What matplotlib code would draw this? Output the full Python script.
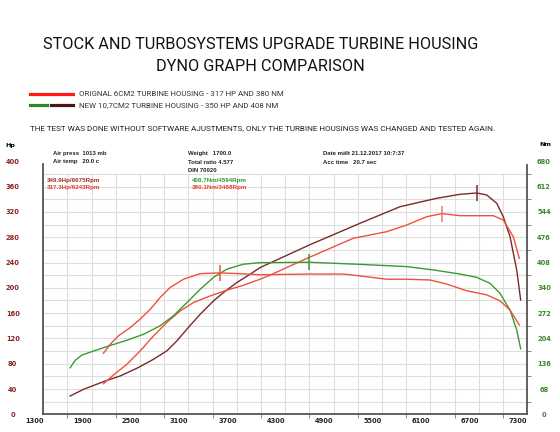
import numpy as np
import matplotlib
matplotlib.use('Agg')
import matplotlib.pyplot as plt

# Dyno data
# Original 6cm2 housing - power (Hp)
orig_hp_rpm = [2046, 2170, 2335, 2501, 2666, 2831, 2997, 3162, 3369, 3575, 3782, 3988,
               4110, 4598, 5143, 5557, 5805, 6053, 6243, 6466, 6673, 6879, 7002, 7126, 7201]
orig_hp = [48.4, 62.2, 79.0, 100.2, 123.9, 145.0, 163.5, 176.7, 187.2, 196.2, 204.1, 213.6,
           220.0, 248.2, 278.3, 288.7, 299.3, 312.4, 317.3, 314.0, 314.0, 314.0, 307.2, 280.8, 246.6]

# Original 6cm2 housing - torque (Nm)
orig_nm_rpm = [2046, 2129, 2232, 2377, 2501, 2625, 2749, 2873, 3038, 3245, 3488, 3740,
               3988, 4598, 5019, 5226, 5557, 5805, 6094, 6301, 6549, 6797, 6962, 7086, 7201]
orig_nm = [164, 188, 211, 233, 256, 282, 314, 341, 363, 378, 380.1, 378,
           375, 377, 377, 372, 363, 363, 361, 350, 332, 321, 305, 280, 240]

# New 10,7cm2 housing - power (Hp)
new_hp_rpm = [1633, 1798, 2046, 2253, 2459, 2666, 2831, 2955, 3079, 3245, 3410, 3534,
              3699, 3864, 3988, 4598, 5226, 5722, 6177, 6466, 6675, 6797, 6921, 7002,
              7086, 7169, 7218]
new_hp = [28.9, 39.5, 51.6, 60.6, 72.7, 87.0, 100.2, 116.0, 134.5, 158.2, 179.3, 192.5,
          208.3, 221.5, 232.0, 267.7, 302.0, 328.2, 341.5, 347.8, 349.9, 346.7, 333.6, 312.4,
          280.8, 228.0, 180.7]

# New 10,7cm2 housing - torque (Nm)
new_nm_rpm = [1633, 1695, 1778, 1922, 2088, 2335, 2542, 2749, 2914, 3079, 3245, 3410,
              3575, 3782, 3988, 4594, 5226, 5805, 6135, 6466, 6673, 6838, 6962, 7086,
              7169, 7218]
new_nm = [125, 145, 159, 170, 182, 199, 215, 238, 265, 300, 336, 368,
          390, 403.5, 407.5, 408.7, 403, 397, 388, 377, 368, 352, 325, 280,
          227, 176]

# peak values
peaks_hp = [(6675, 349.9), (6243, 317.3)]
peaks_nm = [(4594, 408.7), (3488, 380.1)]

hp_ticks = list(range(0, 401, 40))
nm_ticks = list(range(0, 681, 68))
rpm_ticks = list(range(1300, 7301, 600))

RED = '#f0503e'
MAROON = '#7a2a2a'
GREEN = '#3a9a32'
TITLE_FONT = ['Roboto', 'DejaVu Sans']

fig = plt.figure(figsize=(5.6, 4.32), dpi=100)

fig.text(0.465, 0.896, 'STOCK AND TURBOSYSTEMS UPGRADE TURBINE HOUSING', ha='center', va='center',
         fontsize=11.7, family=TITLE_FONT, color='#111111')
fig.text(0.465, 0.845, 'DYNO GRAPH COMPARISON', ha='center', va='center',
         fontsize=11.7, family=TITLE_FONT, color='#111111')

# legend block
fig.add_artist(plt.Line2D([30 / 560, 73 / 560], [1 - 94.3 / 432] * 2, color='#ff1a1a', lw=2.3))
fig.add_artist(plt.Line2D([30 / 560, 47 / 560], [1 - 105 / 432] * 2, color='#2a8a20', lw=2.3))
fig.add_artist(plt.Line2D([51 / 560, 73 / 560], [1 - 105 / 432] * 2, color='#4a1418', lw=2.3))
fig.text(79 / 560, 1 - 94.5 / 432, 'ORIGNAL 6CM2 TURBINE HOUSING - 317 HP AND 380 NM', ha='left', va='center',
         fontsize=5.7, family=TITLE_FONT, color='#333333')
fig.text(79 / 560, 1 - 105 / 432, 'NEW 10,7CM2 TURBINE HOUSING - 350 HP AND 408 NM', ha='left', va='center',
         fontsize=5.7, family=TITLE_FONT, color='#333333')
fig.text(30 / 560, 1 - 128 / 432,
         'THE TEST WAS DONE WITHOUT SOFTWARE AJUSTMENTS, ONLY THE TURBINE HOUSINGS WAS CHANGED AND TESTED AGAIN.',
         ha='left', va='center', fontsize=5.9, family=TITLE_FONT, color='#222222')

ax = fig.add_axes([43.3 / 560, 17.7 / 432, 484 / 560, 253 / 432])
ax2 = ax.twinx()

# grid, drawn up to 380 Hp only like the dyno software does
for x in range(1300, 7301, 300):
    ax.vlines(x, 0, 380, color='#dedede', lw=0.8, zorder=0)
for y in range(20, 381, 20):
    ax.hlines(y, 1300, 7300, color='#dedede', lw=0.8, zorder=0)

ax.plot(new_hp_rpm, new_hp, color=MAROON, lw=1.0)
ax.plot(orig_hp_rpm, orig_hp, color=RED, lw=1.0)
ax2.plot(new_nm_rpm, new_nm, color=GREEN, lw=1.0)
ax2.plot(orig_nm_rpm, orig_nm, color=RED, lw=1.0)

ax.plot(*peaks_hp[0], marker='|', ms=11, mew=1.1, color=MAROON)
ax.plot(*peaks_hp[1], marker='|', ms=11, mew=1.1, color='#e87a70')
ax2.plot(*peaks_nm[0], marker='|', ms=11, mew=1.1, color=GREEN)
ax2.plot(*peaks_nm[1], marker='|', ms=11, mew=1.1, color=RED)

ax.set_xlim(1300, 7300)
ax.set_ylim(0, 400)
ax2.set_ylim(0, 680)

for a in (ax, ax2):
    for s in a.spines.values():
        s.set_visible(False)
ax.spines['left'].set_visible(True)
ax.spines['bottom'].set_visible(True)
ax2.spines['right'].set_visible(True)
ax.spines['left'].set_bounds(0, 395)
ax2.spines['right'].set_bounds(0, 670)
for s in (ax.spines['left'], ax.spines['bottom'], ax2.spines['right']):
    s.set_color('#555555')
    s.set_linewidth(1.3)

ax.set_xticks(rpm_ticks)
ax.set_xticklabels([str(t) for t in rpm_ticks], ha='right', fontsize=4.8, fontweight='bold', color='#222222')
ax.set_xticks(range(1600, 7300, 600), minor=True)
ax.tick_params(axis='x', which='major', length=0, pad=3)
ax.tick_params(axis='x', which='minor', length=3, width=0.6, color='#777777', direction='out')

ax.set_yticks(hp_ticks)
ax.set_yticklabels([str(t) for t in hp_ticks], ha='center', fontsize=4.8, fontweight='bold', color='#8b2323')
ax.tick_params(axis='y', length=0, pad=22)

ax2.set_yticks(nm_ticks)
ax2.set_yticklabels([str(t) for t in nm_ticks], ha='center', fontsize=4.8, fontweight='bold', color='#3a8a2a')
ax2.set_yticks(range(34, 680, 68), minor=True)
ax2.tick_params(axis='y', which='major', length=0, pad=12)
ax2.tick_params(axis='y', which='minor', length=3, width=0.6, color='#777777', direction='out')

fig.text(10 / 560, 1 - 145 / 432, 'Hp', ha='center', va='center', fontsize=4.6, fontweight='bold')
fig.text(545 / 560, 1 - 145 / 432, 'Nm', ha='center', va='center', fontsize=4.6, fontweight='bold')

# dyno info block
info = [(53, 153, 'Air press  1013 mb'), (53, 162, 'Air temp   20.0 c'),
        (188, 153, 'Weight   1700.0'), (188, 162, 'Total ratio 4.577'), (188, 171, 'DIN 70020'),
        (323, 153, 'Date mält 21.12.2017 10:7:37'), (323, 162, 'Acc time   20.7 sec')]
for x, y, s in info:
    fig.text(x / 560, 1 - y / 432, s, ha='left', va='center', fontsize=4.3, fontweight='bold',
             family='Liberation Sans', color='#222222')

fig.text(47 / 560, 1 - 181 / 432, '%.1fHp/%dRpm' % (peaks_hp[0][1], peaks_hp[0][0]), ha='left', va='center',
         fontsize=4.5, family='Liberation Sans', fontweight='bold', color='#a0302a')
fig.text(47 / 560, 1 - 188 / 432, '%.1fHp/%dRpm' % (peaks_hp[1][1], peaks_hp[1][0]), ha='left', va='center',
         fontsize=4.5, family='Liberation Sans', fontweight='bold', color='#e83a30')
fig.text(192 / 560, 1 - 181 / 432, '%.1fNm/%dRpm' % (peaks_nm[0][1], peaks_nm[0][0]), ha='left', va='center',
         fontsize=4.5, family='Liberation Sans', fontweight='bold', color='#2a9a2a')
fig.text(192 / 560, 1 - 188 / 432, '%.1fNm/%dRpm' % (peaks_nm[1][1], peaks_nm[1][0]), ha='left', va='center',
         fontsize=4.5, family='Liberation Sans', fontweight='bold', color='#e83a30')

fig.savefig('out.png', dpi=100)
